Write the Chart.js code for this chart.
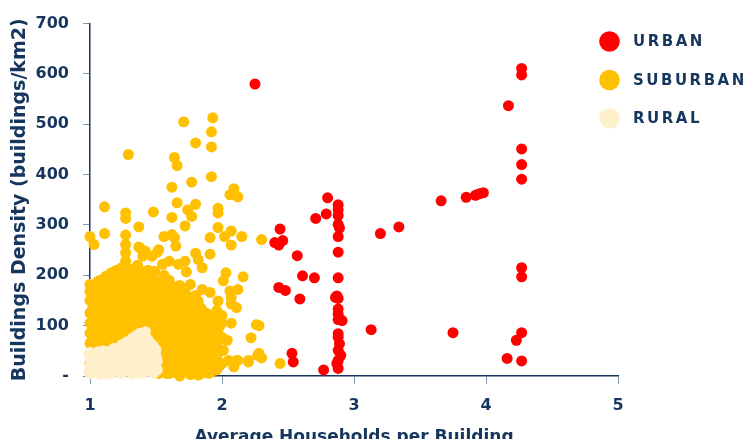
<!DOCTYPE html>
<html>
<head>
<meta charset="utf-8">
<script src="https://cdn.jsdelivr.net/npm/chart.js@4.4.0/dist/chart.umd.min.js"></script>
<style>
  html, body { margin: 0; padding: 0; background: #fff; }
  #wrap { width: 750px; height: 439px; }
</style>
</head>
<body>
<div id="wrap"><canvas id="densityChart" width="750" height="439"></canvas></div>
<script>
// Series: [households per building, buildings per km2]
const seriesNames = ['URBAN', 'SUBURBAN', 'RURAL'];
const seriesColors = ['#FF0000', '#FFC000', '#FFF0CC'];

const urbanPoints = [
  [2.25,580],[2.80,354],[2.71,313],[2.79,322],
  [2.88,340],[2.88,330],[2.88,319],[2.88,301],[2.89,294],[2.88,277],[2.88,246],[2.88,195],
  [2.87,159],[2.88,154],[2.88,133],[2.88,123],[2.91,110],[2.88,112],[2.88,84],[2.88,77],
  [2.89,64],[2.88,51],[2.90,41],[2.88,31],[2.87,25],[2.88,15],
  [2.44,292],[2.40,265],[2.46,269],[2.43,260],[3.20,283],[2.57,239],[2.61,199],[2.70,195],
  [2.43,176],[2.48,170],[2.59,153],[2.86,156],[3.13,92],[2.53,45],[2.54,28],[2.77,12],
  [4.27,611],[4.27,598],[4.17,537],[4.27,451],[4.27,420],[4.27,391],[3.66,348],[3.85,355],
  [3.92,359],[3.95,362],[3.98,364],[3.34,296],[4.27,215],[4.27,197],[3.75,86],[4.27,86],
  [4.23,71],[4.16,35],[4.27,30]
];

const suburbanPoints = [
  // scattered points above the main mass
  [1.71,505],[1.93,513],[1.92,485],[1.80,463],[1.92,455],[1.29,440],[1.64,434],[1.66,418],
  [1.92,396],[1.77,385],[1.62,375],[2.09,372],[2.06,360],[2.12,356],[1.66,344],[1.80,341],
  [1.74,330],[1.77,317],[1.11,336],[1.27,324],[1.27,313],[1.48,326],[1.62,315],[1.97,333],
  [1.97,324],[1.37,296],[1.72,298],[1.00,277],[1.03,261],[1.11,283],[1.27,280],[1.27,261],
  [1.56,277],[1.64,275],[1.97,295],[1.91,275],[2.02,277],[2.07,288],[2.15,277],[2.07,260],
  [2.30,271],[1.91,242],[1.37,256],[1.40,238],[1.51,246],[1.80,244],[1.82,231],[1.85,215],
  [1.72,228],[1.73,207],[2.03,205],[2.01,189],[2.16,197],[2.06,169],[2.12,172],[2.07,156],
  [2.11,136],[2.07,105],[2.22,76],[2.26,102],[2.04,71],[2.01,51],[2.11,31],[2.20,31],
  [2.27,41],[2.28,45],[2.30,36],[2.44,25],[1.27,245],[1.27,228],[1.38,254],[1.42,248],
  [1.47,238],[1.52,251],[1.62,281],[1.65,258],[1.55,222],[1.60,228],[1.49,208],[1.67,222],
  [1.76,182],[1.85,172],[1.91,166],[1.97,149],[2.07,143],[2.28,100],[1.98,97],[2.00,77],
  [2.20,28],[2.12,31],[2.09,18],[1.92,8],[1.00,182],[1.05,143],[1.94,61],[2.05,31],
  // main mass
  [1.00,8],[1.00,25],[1.00,45],[1.00,65],[1.00,85],[1.00,105],[1.00,125],[1.00,150],[1.00,168],
  [1.02,35],[1.02,75],[1.02,95],[1.02,135],[1.02,158],[1.02,175],
  [1.04,15],[1.04,55],[1.04,95],[1.04,115],[1.04,160],[1.04,178],
  [1.06,30],[1.06,48],[1.06,80],[1.06,105],[1.06,130],[1.06,150],[1.06,170],[1.06,188],
  [1.08,5],[1.08,70],[1.08,88],[1.08,120],[1.08,165],[1.08,190],
  [1.10,20],[1.10,55],[1.10,110],[1.10,128],[1.10,155],[1.10,185],
  [1.12,40],[1.12,80],[1.12,100],[1.12,140],[1.12,175],[1.12,198],
  [1.14,25],[1.14,70],[1.14,88],[1.14,130],[1.14,165],[1.14,192],
  [1.16,60],[1.16,95],[1.16,118],[1.16,150],[1.16,185],[1.16,205],
  [1.18,45],[1.18,78],[1.18,105],[1.18,140],[1.18,170],[1.18,198],
  [1.20,65],[1.20,85],[1.20,110],[1.20,135],[1.20,160],[1.20,190],[1.20,210],
  [1.22,55],[1.22,95],[1.22,120],[1.22,145],[1.22,180],[1.22,205],
  [1.24,75],[1.24,100],[1.24,125],[1.24,150],[1.24,175],[1.24,200],[1.24,215],
  [1.26,65],[1.26,90],[1.26,115],[1.26,140],[1.26,165],[1.26,190],
  [1.28,85],[1.28,105],[1.28,130],[1.28,155],[1.28,180],[1.28,205],
  [1.30,78],[1.30,100],[1.30,120],[1.30,148],[1.30,175],[1.30,198],
  [1.32,95],[1.32,115],[1.32,140],[1.32,165],[1.32,190],[1.32,212],
  [1.34,90],[1.34,108],[1.34,132],[1.34,158],[1.34,182],[1.34,205],
  [1.36,100],[1.36,120],[1.36,145],[1.36,170],[1.36,195],[1.36,220],
  [1.38,95],[1.38,112],[1.38,135],[1.38,160],[1.38,185],[1.38,210],
  [1.40,100],[1.40,125],[1.40,150],[1.40,175],[1.40,200],
  [1.42,92],[1.42,115],[1.42,140],[1.42,165],[1.42,190],
  [1.44,90],[1.44,110],[1.44,135],[1.44,160],[1.44,185],[1.44,210],
  [1.46,88],[1.46,105],[1.46,120],[1.46,145],[1.46,172],[1.46,198],
  [1.48,80],[1.48,100],[1.48,125],[1.48,150],[1.48,170],[1.48,190],
  [1.50,68],[1.50,90],[1.50,110],[1.50,132],[1.50,158],[1.50,178],
  [1.52,5],[1.52,30],[1.52,55],[1.52,75],[1.52,95],[1.52,115],[1.52,140],[1.52,165],[1.52,185],
  [1.54,8],[1.54,25],[1.54,48],[1.54,68],[1.54,88],[1.54,110],[1.54,125],[1.54,155],[1.54,188],
  [1.56,15],[1.56,40],[1.56,60],[1.56,85],[1.56,105],[1.56,130],[1.56,150],[1.56,175],[1.56,200],
  [1.58,5],[1.58,30],[1.58,52],[1.58,75],[1.58,98],[1.58,115],[1.58,140],[1.58,165],[1.58,185],
  [1.60,5],[1.60,25],[1.60,50],[1.60,70],[1.60,95],[1.60,120],[1.60,140],[1.60,160],[1.60,190],
  [1.62,18],[1.62,40],[1.62,62],[1.62,85],[1.62,108],[1.62,130],[1.62,150],[1.62,178],
  [1.64,12],[1.64,35],[1.64,60],[1.64,80],[1.64,105],[1.64,125],[1.64,150],[1.64,170],
  [1.66,5],[1.66,30],[1.66,52],[1.66,75],[1.66,98],[1.66,122],[1.66,145],[1.66,168],
  [1.68,0],[1.68,22],[1.68,45],[1.68,70],[1.68,90],[1.68,115],[1.68,135],[1.68,160],[1.68,180],
  [1.70,20],[1.70,40],[1.70,62],[1.70,88],[1.70,110],[1.70,132],[1.70,155],
  [1.72,10],[1.72,30],[1.72,55],[1.72,78],[1.72,100],[1.72,125],[1.72,145],[1.72,165],
  [1.74,8],[1.74,25],[1.74,48],[1.74,70],[1.74,92],[1.74,115],[1.74,138],[1.74,158],
  [1.76,3],[1.76,20],[1.76,42],[1.76,65],[1.76,88],[1.76,110],[1.76,130],[1.76,150],
  [1.78,10],[1.78,35],[1.78,55],[1.78,78],[1.78,100],[1.78,122],[1.78,142],
  [1.80,12],[1.80,32],[1.80,55],[1.80,75],[1.80,98],[1.80,120],[1.80,140],[1.80,160],
  [1.82,2],[1.82,20],[1.82,42],[1.82,65],[1.82,85],[1.82,108],[1.82,128],[1.82,148],
  [1.84,5],[1.84,25],[1.84,45],[1.84,68],[1.84,90],[1.84,112],[1.84,135],
  [1.86,10],[1.86,32],[1.86,52],[1.86,75],[1.86,98],[1.86,118],
  [1.88,15],[1.88,38],[1.88,60],[1.88,82],[1.88,105],[1.88,125],
  [1.90,5],[1.90,22],[1.90,45],[1.90,68],[1.90,88],[1.90,110],
  [1.92,28],[1.92,50],[1.92,72],[1.92,95],[1.92,118],
  [1.94,15],[1.94,35],[1.94,55],[1.94,80],[1.94,100],
  [1.96,12],[1.96,40],[1.96,62],[1.96,85],[1.96,130],
  [1.98,20],[1.98,48],[1.98,72],[1.98,110],
  [2.00,25],[2.00,105],[2.00,120]
];

const ruralPoints = [
  [1.00,5],[1.00,20],[1.00,35],[1.00,47],
  [1.02,12],[1.02,28],[1.02,42],
  [1.04,8],[1.04,25],[1.04,42],
  [1.06,15],[1.06,35],[1.06,48],
  [1.08,3],[1.08,18],[1.08,33],[1.08,44],
  [1.10,5],[1.10,20],[1.10,38],[1.10,50],
  [1.12,10],[1.12,28],[1.12,45],
  [1.14,15],[1.14,32],[1.14,48],
  [1.16,4],[1.16,20],[1.16,36],[1.16,50],
  [1.18,8],[1.18,25],[1.18,42],[1.18,55],
  [1.20,12],[1.20,30],[1.20,48],
  [1.22,15],[1.22,35],[1.22,52],
  [1.24,5],[1.24,22],[1.24,40],[1.24,55],[1.24,62],
  [1.26,10],[1.26,28],[1.26,45],[1.26,62],
  [1.28,14],[1.28,32],[1.28,50],[1.28,68],
  [1.30,10],[1.30,30],[1.30,50],[1.30,68],
  [1.32,4],[1.32,24],[1.32,42],[1.32,60],[1.32,75],
  [1.34,18],[1.34,38],[1.34,58],[1.34,78],
  [1.36,12],[1.36,30],[1.36,50],[1.36,70],[1.36,82],
  [1.38,5],[1.38,22],[1.38,42],[1.38,62],[1.38,85],
  [1.40,6],[1.40,24],[1.40,42],[1.40,62],[1.40,82],
  [1.42,15],[1.42,35],[1.42,52],[1.42,72],[1.42,88],
  [1.44,14],[1.44,34],[1.44,54],[1.44,72],
  [1.46,8],[1.46,28],[1.46,48],[1.46,65],
  [1.48,5],[1.48,24],[1.48,44],[1.48,60],
  [1.50,20],[1.50,40],[1.50,52],
  [1.51,12],[1.51,30]
];

const xTicks = [1, 2, 3, 4, 5];
const yTicks = [0, 100, 200, 300, 400, 500, 600, 700];

const navy = '#17365D';
const baseFont = '"DejaVu Sans", Verdana, sans-serif';

function toXY(list) {
  return list.map(([x, y]) => ({ x: x, y: y }));
}

// legend drawn on the right, with the wide letter spacing of the original
const sideLegend = {
  id: 'sideLegend',
  afterDraw(chart) {
    const ctx = chart.ctx;
    ctx.save();
    ctx.font = 'bold 15px ' + baseFont;
    if ('letterSpacing' in ctx) ctx.letterSpacing = '2.5px';
    ctx.textBaseline = 'middle';
    ctx.textAlign = 'left';
    chart.data.datasets.forEach((ds, i) => {
      const cy = 41.5 + i * 38.5;
      ctx.beginPath();
      ctx.arc(609.5, cy, 10.3, 0, Math.PI * 2);
      ctx.fillStyle = ds.backgroundColor;
      ctx.fill();
      ctx.fillStyle = navy;
      ctx.fillText(ds.label, 633, cy + 1);
    });
    ctx.restore();
  }
};

const seriesData = [urbanPoints, suburbanPoints, ruralPoints];

new Chart(document.getElementById('densityChart'), {
  type: 'scatter',
  data: {
    datasets: seriesNames.map((name, i) => ({
      label: name,
      data: toXY(seriesData[i]),
      backgroundColor: seriesColors[i],
      borderWidth: 0,
      pointRadius: 5.5,
      pointHoverRadius: 5.5,
      clip: false,
      // suburban underneath, rural drawn over it
      order: name === 'SUBURBAN' ? 1 : 0
    }))
  },
  options: {
    responsive: false,
    animation: false,
    layout: { padding: { top: 10, right: 132, left: 0, bottom: 0 } },
    plugins: {
      legend: { display: false },
      tooltip: { enabled: false }
    },
    scales: {
      x: {
        type: 'linear',
        min: 1,
        max: 5,
        afterBuildTicks: (scale) => { scale.ticks = xTicks.map(v => ({ value: v })); },
        afterFit: (scale) => { scale.height = 63; },
        grid: { drawOnChartArea: false, drawTicks: true, tickLength: 8, color: '#8497B0' },
        border: { display: true, color: navy, width: 1.5 },
        ticks: {
          padding: 12,
          color: navy,
          font: { family: baseFont, size: 16, weight: 'bold' }
        },
        title: {
          display: true,
          text: 'Average Households per Building',
          color: navy,
          padding: { top: 0, bottom: -9 },
          font: { family: baseFont, size: 17, weight: 'bold' }
        }
      },
      y: {
        type: 'linear',
        min: 0,
        max: 700,
        afterBuildTicks: (scale) => { scale.ticks = yTicks.map(v => ({ value: v })); },
        afterFit: (scale) => { scale.width = 90; },
        grid: { drawOnChartArea: false, drawTicks: true, tickLength: 7, color: '#8497B0' },
        border: { display: true, color: navy, width: 1.5 },
        ticks: {
          padding: 14,
          color: navy,
          font: { family: baseFont, size: 16, weight: 'bold' },
          callback: (v) => v === 0 ? '-' : v
        },
        title: {
          display: true,
          text: 'Buildings Density (buildings/km2)',
          color: navy,
          padding: { top: 9, bottom: 0 },
          font: { family: baseFont, size: 19, weight: 'bold' }
        }
      }
    }
  },
  plugins: [sideLegend]
});
</script>
</body>
</html>
